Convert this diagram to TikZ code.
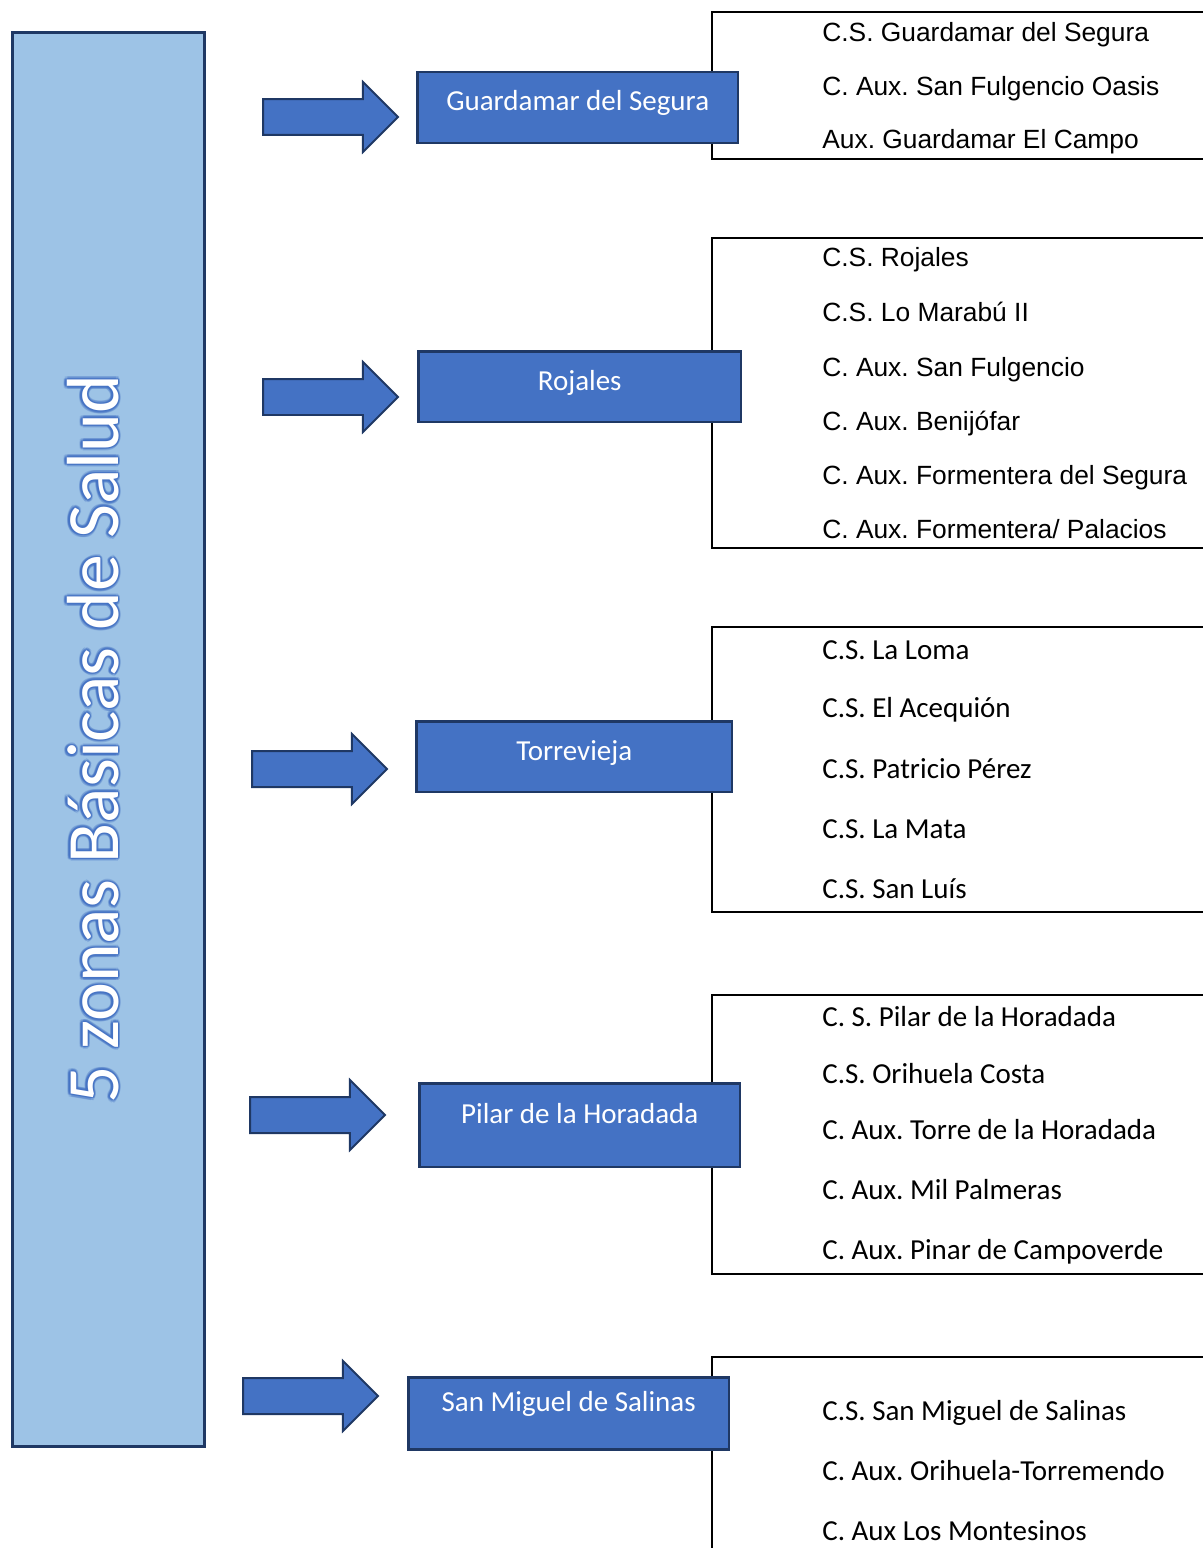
\documentclass[tikz,border=0pt]{standalone}
\usepackage{fontspec}
\setmainfont{Carlito}
\newfontfamily\arialfont{Liberation Sans}
\usetikzlibrary{shapes.arrows}
\definecolor{barblue}{RGB}{157,195,230}
\definecolor{boxblue}{RGB}{68,114,196}
\definecolor{navy}{RGB}{31,56,100}
\frenchspacing

\begin{document}
\begin{tikzpicture}
    [x=0.02cm, y=-0.02cm,
    zona/.style={draw=navy, fill=boxblue, line width=0.05cm, text=white, anchor=north west, inner sep=0pt, font=\fontsize{16.5}{20}\selectfont},
    flecha/.style={single arrow, draw=navy, fill=boxblue, line width=0.04cm, inner sep=0pt, text height=0.68cm, text depth=0pt, minimum height=2.7cm, single arrow head extend=0.34cm, anchor=tail},
    centro/.style={anchor=base west, inner sep=0pt, font=\fontsize{16.5}{20}\selectfont},
    centroA/.style={anchor=base west, inner sep=0pt, font=\arialfont\fontsize{15}{18}\selectfont},
    marco/.style={line width=0.04cm},
    titulo/.style={rotate=90, anchor=base, inner sep=0pt, font=\fontsize{42}{50}\selectfont}]
    \useasboundingbox (0,0) rectangle (1203,1548);
    % left bar
    \node[draw=navy, fill=barblue, line width=0.06cm, minimum width=3.84cm, minimum height=28.28cm, inner sep=0pt, anchor=north west] (Z) at (11,31) {};
    \foreach \a in {0,30,...,330}
        \node[titulo, text=boxblue, opacity=0.25, shift={(\a:0.06cm)}] at (118,739) {5 zonas Básicas de Salud};
    \foreach \a in {0,45,...,315}
        \node[titulo, text=boxblue, opacity=0.5, shift={(\a:0.03cm)}] at (118,739) {5 zonas Básicas de Salud};
    \node[titulo, text=white] (titulo) at (118,739) {5 zonas Básicas de Salud};
    % brackets
    \draw[marco] (1210,12) -| (712,159) -- (1210,159);
    \draw[marco] (1210,238) -| (712,548) -- (1210,548);
    \draw[marco] (1210,627) -| (712,912) -- (1210,912);
    \draw[marco] (1210,995) -| (712,1274) -- (1210,1274);
    \draw[marco] (1210,1357) -| (712,1560);
    % arrows
    \node[flecha] (fG) at (262,117) {};
    \node[flecha] (fR) at (262,397) {};
    \node[flecha] (fT) at (251,769) {};
    \node[flecha] (fP) at (249,1115) {};
    \node[flecha] (fM) at (242,1396) {};
    % zones
    \node[zona, minimum width=6.42cm, text height=0.76cm, text depth=0.66cm] (G) at (416,71) {Guardamar del Segura};
    \node[zona, minimum width=6.46cm, text height=0.78cm, text depth=0.64cm] (R) at (417,350) {Rojales};
    \node[zona, minimum width=6.32cm, text height=0.78cm, text depth=0.64cm] (T) at (415,720) {Torrevieja};
    \node[zona, minimum width=6.42cm, text height=0.80cm, text depth=0.88cm] (P) at (418,1082) {Pilar de la Horadada};
    \node[zona, minimum width=6.42cm, text height=0.68cm, text depth=0.76cm] (M) at (407,1376) {San Miguel de Salinas};
    % centres
    \node[centroA] (G1) at (822,42) {C.S. Guardamar del Segura};
    \node[centroA] (G2) at (822,95) {C. Aux. San Fulgencio Oasis};
    \node[centroA] (G3) at (822,149) {Aux. Guardamar El Campo};
    \node[centroA] (R1) at (822,266) {C.S. Rojales};
    \node[centroA] (R2) at (822,321) {C.S. Lo Marabú II};
    \node[centroA] (R3) at (822,376) {C. Aux. San Fulgencio};
    \node[centroA] (R4) at (822,430) {C. Aux. Benijófar};
    \node[centroA] (R5) at (822,484) {C. Aux. Formentera del Segura};
    \node[centroA] (R6) at (822,538) {C. Aux. Formentera/ Palacios};
    \node[centro] (T1) at (822,659) {C.S. La Loma};
    \node[centro] (T2) at (822,717) {C.S. El Acequión};
    \node[centro] (T3) at (822,778) {C.S. Patricio Pérez};
    \node[centro] (T4) at (822,838) {C.S. La Mata};
    \node[centro] (T5) at (822,898) {C.S. San Luís};
    \node[centro] (P1) at (822,1026) {C. S. Pilar de la Horadada};
    \node[centro] (P2) at (822,1083) {C.S. Orihuela Costa};
    \node[centro] (P3) at (822,1139) {C. Aux. Torre de la Horadada};
    \node[centro] (P4) at (822,1199) {C. Aux. Mil Palmeras};
    \node[centro] (P5) at (822,1259) {C. Aux. Pinar de Campoverde};
    \node[centro] (M1) at (822,1420) {C.S. San Miguel de Salinas};
    \node[centro] (M2) at (822,1480) {C. Aux. Orihuela-Torremendo};
    \node[centro] (M3) at (822,1540) {C. Aux Los Montesinos};
\end{tikzpicture}
\end{document}
